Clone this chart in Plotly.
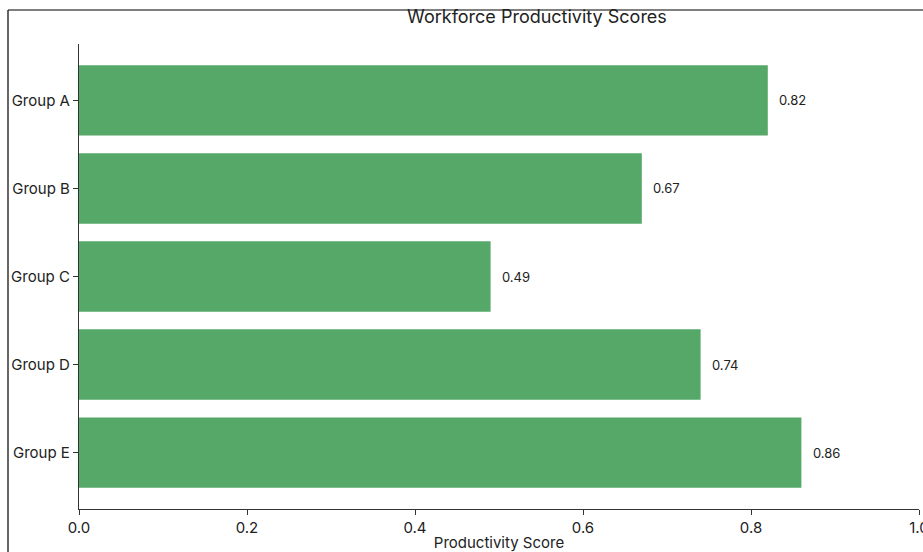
import plotly.graph_objects as go

groups = ["Group A", "Group B", "Group C", "Group D", "Group E"]
scores = [0.82, 0.67, 0.49, 0.74, 0.86]
x_ticks = [0.0, 0.2, 0.4, 0.6, 0.8, 1.0]

FONT = "Inter"
W, H = 923, 552
L, R, T, B = 79, 4, 44, 43

fig = go.Figure()
fig.add_trace(go.Bar(
    x=scores, y=groups, orientation="h",
    marker=dict(color="#55a868", line=dict(width=0)),
    width=0.8,
))

for g, v in zip(groups, scores):
    fig.add_annotation(x=v + 0.011, y=g, text=f"{v:.2f}", showarrow=False,
                       xanchor="left", yanchor="middle",
                       font=dict(family=FONT, size=13, color="#222222"))

pw = W - L - R
ph = H - T - B
# border of the (cropped) figure
fig.add_shape(type="line", xref="paper", yref="paper",
              x0=(8 - L) / pw, x1=(W + 10 - L) / pw,
              y0=(H - B - 10) / ph, y1=(H - B - 10) / ph,
              line=dict(color="black", width=1.2))
fig.add_shape(type="line", xref="paper", yref="paper",
              x0=(8 - L) / pw, x1=(8 - L) / pw,
              y0=(H - B - 10) / ph, y1=-(B + 10) / ph,
              line=dict(color="black", width=1.2))

fig.update_layout(
    width=W, height=H,
    margin=dict(l=L, r=R, t=T, b=B, autoexpand=False),
    plot_bgcolor="white", paper_bgcolor="white",
    showlegend=False,
    font=dict(family=FONT, size=15, color="#222222"),
    title=dict(text="Workforce Productivity Scores", x=537 / W, xanchor="center",
               y=1 - 17 / H, yanchor="middle",
               font=dict(family=FONT, size=18, color="#222222")),
    bargap=0.2,
)
fig.update_xaxes(range=[0, 1.0], tickvals=x_ticks, ticktext=[f"{t:.1f}" for t in x_ticks],
                 automargin=False, ticklabeloverflow="allow",
                 showgrid=False, zeroline=False, showline=True, linecolor="#333333", linewidth=1.2,
                 ticks="outside", ticklen=5, tickcolor="#333333",
                 tickfont=dict(family=FONT, size=15, color="#222222"),
                 title=dict(text="Productivity Score", standoff=4,
                            font=dict(family=FONT, size=15, color="#222222")))
fig.update_yaxes(categoryorder="array", categoryarray=groups, autorange=False,
                 range=[4.64, -0.64], automargin=False,
                 showgrid=False, zeroline=False, showline=True, linecolor="#333333", linewidth=1.2,
                 ticks="outside", ticklen=5, tickcolor="#333333",
                 tickfont=dict(family=FONT, size=15, color="#222222"))

fig.write_html("out.html")
